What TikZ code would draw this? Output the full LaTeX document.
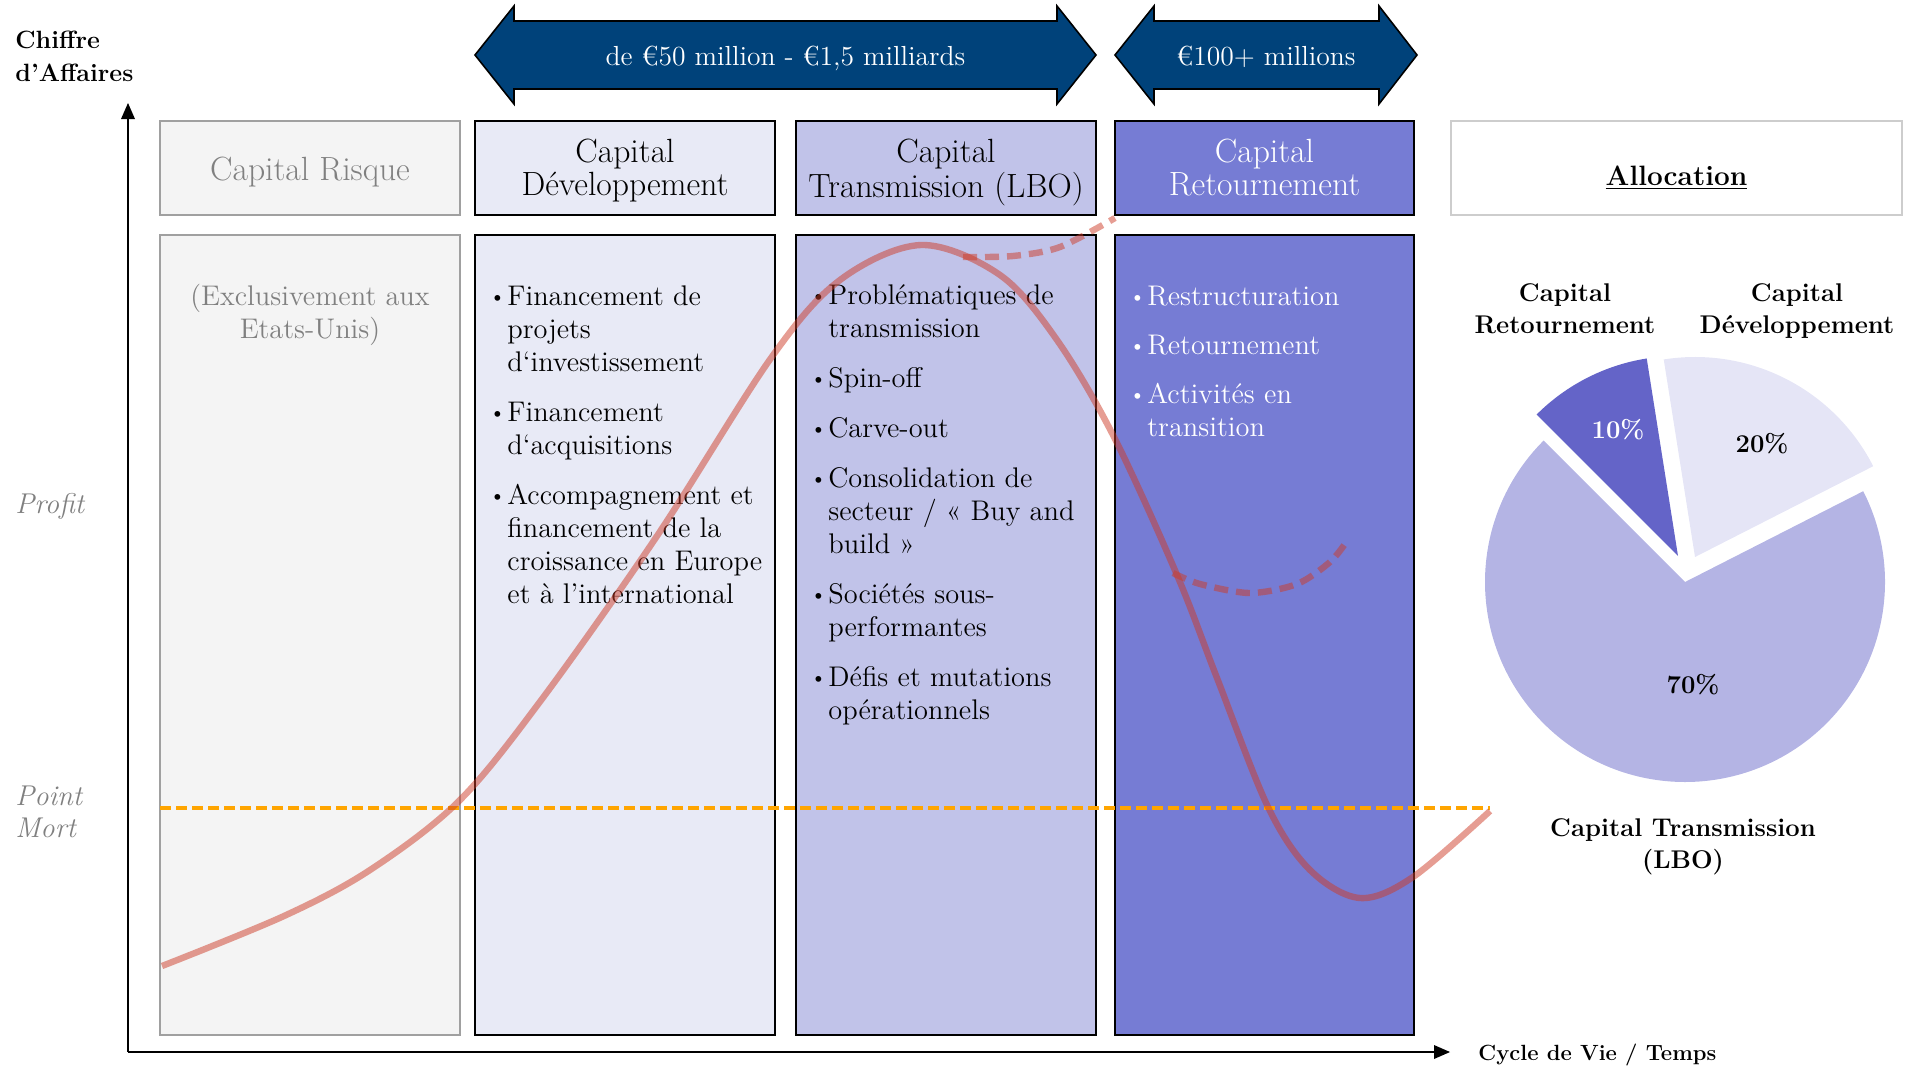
\documentclass[tikz,border=0pt]{standalone}
\usepackage{fontspec}

\definecolor{riskfill}{RGB}{244,244,244}
\definecolor{riskline}{RGB}{160,160,160}
\definecolor{riskgray}{RGB}{128,128,128}
\definecolor{devfill}{RGB}{232,234,246}
\definecolor{lbofill}{RGB}{193,195,233}
\definecolor{retfill}{RGB}{118,124,212}
\definecolor{alloline}{RGB}{205,205,205}
\definecolor{arrowblue}{RGB}{0,66,122}
\definecolor{pielbo}{RGB}{180,180,228}
\definecolor{piedev}{RGB}{229,229,246}
\definecolor{pieret}{RGB}{100,100,200}
\definecolor{curvered}{RGB}{205,60,40}
\definecolor{breakeven}{RGB}{255,165,0}
\definecolor{labelgray}{RGB}{128,128,128}

\newcommand{\lignes}[2][c]{\begin{tabular}[t]{@{}#1@{}}#2\end{tabular}}
\newcommand{\liste}[1]{\begin{tabular}[t]{@{}l@{}l@{}}#1\end{tabular}}
\newcommand{\puce}{\makebox[9.5pt][l]{\hspace{0.5pt}\raisebox{0.06em}{\scalebox{0.75}{\textbullet}}}}

\begin{document}
\begin{tikzpicture}[x=0.5pt,y=0.5pt]
  \tikzstyle{every node}+=[inner sep=0pt]
  \tikzstyle{hdr}=[font=\fontsize{16.8}{16.5}\selectfont, anchor=base]
  \tikzstyle{listtxt}=[font=\fontsize{14.2}{16.5}\selectfont, anchor=base west]
  \tikzstyle{bandtxt}=[font=\fontsize{13.8}{16}\selectfont, text=white, anchor=base]
  \tikzstyle{axislabel}=[font=\bfseries\fontsize{12.5}{16.5}\selectfont, anchor=base west]
  \tikzstyle{pielabel}=[font=\bfseries\fontsize{12.8}{16}\selectfont, anchor=base]
  \tikzstyle{sidelabel}=[font=\itshape\fontsize{14.3}{16}\selectfont, text=labelgray, anchor=base west]
  \tikzstyle{colbox}=[draw=black, line width=1pt]
  \tikzstyle{band}=[draw=black, line width=0.8pt, fill=arrowblue]
  \tikzstyle{lifecurve}=[draw=curvered, opacity=0.5, line width=3.2pt]
  \useasboundingbox (0,0) rectangle (1911,-1066);

  % colonnes
  \draw [colbox, draw=riskline, fill=riskfill] (160,-121) rectangle (460,-215);
  \draw [colbox, draw=riskline, fill=riskfill] (160,-235) rectangle (460,-1035);
  \draw [colbox, fill=devfill] (475,-121) rectangle (775,-215);
  \draw [colbox, fill=devfill] (475,-235) rectangle (775,-1035);
  \draw [colbox, fill=lbofill] (796,-121) rectangle (1096,-215);
  \draw [colbox, fill=lbofill] (796,-235) rectangle (1096,-1035);
  \draw [colbox, fill=retfill] (1115,-121) rectangle (1414,-215);
  \draw [colbox, fill=retfill] (1115,-235) rectangle (1414,-1035);
  \draw [colbox, draw=alloline, line width=1.3pt] (1451,-121) rectangle (1902,-215);

  \node [hdr, text=riskgray] (riskhead) at (310,-180) {Capital Risque};
  \node [hdr] (devhead) at (625,-162) {\lignes{Capital\\Développement}};
  \node [hdr] (lbohead) at (946,-162) {\lignes{Capital\\Transmission (LBO)}};
  \node [hdr, text=white] (rethead) at (1264.5,-162) {\lignes{Capital\\Retournement}};
  \node [hdr, font=\bfseries\fontsize{14}{16}\selectfont] (allochead) at (1676.5,-185) {\underline{Allocation}};

  \node [listtxt, anchor=base, text=riskgray] (risklist) at (310,-305) {\lignes{(Exclusivement aux\\Etats-Unis)}};
  \node [listtxt] (devlist) at (488,-305) {\liste{
    \puce & Financement de\\ & projets\\ & d‘investissement\\[8.5pt]
    \puce & Financement\\ & d‘acquisitions\\[8.5pt]
    \puce & Accompagnement et\\ & financement de la\\ & croissance en Europe\\ & et à l’international}};
  \node [listtxt] (lbolist) at (809,-304) {\liste{
    \puce & Problématiques de\\ & transmission\\[8.5pt]
    \puce & Spin-off\\[8.5pt]
    \puce & Carve-out\\[8.5pt]
    \puce & Consolidation de\\ & secteur / « Buy and\\ & build »\\[8.5pt]
    \puce & Sociétés sous-\\ & performantes\\[8.5pt]
    \puce & Défis et mutations\\ & opérationnels}};
  \node [listtxt, text=white] (retlist) at (1128,-305) {\liste{
    \puce & Restructuration\\[8pt]
    \puce & Retournement\\[8pt]
    \puce & Activités en\\ & transition}};

  % point mort
  \coordinate (pm0) at (160,-808);
  \coordinate (pm1) at (1490,-808);
  \draw [breakeven, line width=1.75pt, dash pattern=on 5.5pt off 2.5pt] (pm0) -- (pm1);

  % cycle de vie
  \draw [lifecurve] plot [smooth, tension=0.55] coordinates {(162,-966) (284,-916) (370,-870) (459,-801) (542,-699) (657,-536) (771,-358) (840,-280) (921,-245) (1000,-275) (1057,-340) (1114,-437) (1177,-575) (1217,-678) (1268,-807) (1310,-870) (1360,-898) (1413,-877) (1490,-811)};
  \draw [lifecurve, dash pattern=on 7pt off 4pt] plot [smooth] coordinates {(963,-257) (1013,-256) (1060,-247) (1115,-218)};
  \draw [lifecurve, dash pattern=on 7pt off 4pt] plot [smooth] coordinates {(1173,-573) (1200,-584) (1250,-593) (1297,-584) (1330,-562) (1347,-541)};

  % axes
  \coordinate (org) at (128,-1052);
  \coordinate (ytip) at (128,-103);
  \coordinate (xtip) at (1450,-1052);
  \draw [black, line width=1pt] (org) -- ([yshift=-7pt]ytip);
  \fill [black] (ytip) -- ++(-7,-16) -- ++(14,0) -- cycle;
  \draw [black, line width=1pt] (org) -- ([xshift=-7pt]xtip);
  \fill [black] (xtip) -- ++(-16,-7) -- ++(0,14) -- cycle;
  \node [axislabel] (ca) at (15,-48) {\lignes[l]{Chiffre\\d’Affaires}};
  \node [axislabel, font=\bfseries\fontsize{11}{13}\selectfont] (temps) at (1478,-1060) {Cycle de Vie / Temps};
  \node [sidelabel] (profit) at (15,-513) {Profit};
  \node [sidelabel] (pointmort) at (15,-805) {\lignes[l]{Point\\Mort}};

  % tailles
  \draw [band] (475,-55) -- (514,-6) -- (514,-21) -- (1057,-21) -- (1057,-6) -- (1096,-55) -- (1057,-104) -- (1057,-89) -- (514,-89) -- (514,-104) -- cycle;
  \node [bandtxt] (size1) at (785.5,-65) {de €50 million - €1,5 milliards};
  \draw [band] (1115,-55) -- (1154,-6) -- (1154,-21) -- (1379,-21) -- (1379,-6) -- (1417,-55) -- (1379,-104) -- (1379,-89) -- (1154,-89) -- (1154,-104) -- cycle;
  \node [bandtxt] (size2) at (1266,-65) {€100+ millions};

  % allocation
  \coordinate (pc) at (1685,-582);
  \fill [pielbo] (pc) -- +(135:200) arc [start angle=135, end angle=387, radius=200] -- cycle;
  \fill [piedev] ([shift={(10,25)}]pc) -- +(27:200) arc [start angle=27, end angle=99, radius=200] -- cycle;
  \fill [pieret] ([shift={(-7,26)}]pc) -- +(99:200) arc [start angle=99, end angle=135, radius=200] -- cycle;
  \node [pielabel] (retlab) at (1565,-301) {\lignes{Capital\\Retournement}};
  \node [pielabel] (devlab) at (1797,-301) {\lignes{Capital\\Développement}};
  \node [pielabel] (lbolab) at (1683,-836) {\lignes{Capital Transmission\\(LBO)}};
  \node [pielabel, text=white] (p10) at (1618,-438) {10\%};
  \node [pielabel] (p20) at (1762,-452) {20\%};
  \node [pielabel] (p70) at (1693,-693) {70\%};
\end{tikzpicture}
\end{document}
